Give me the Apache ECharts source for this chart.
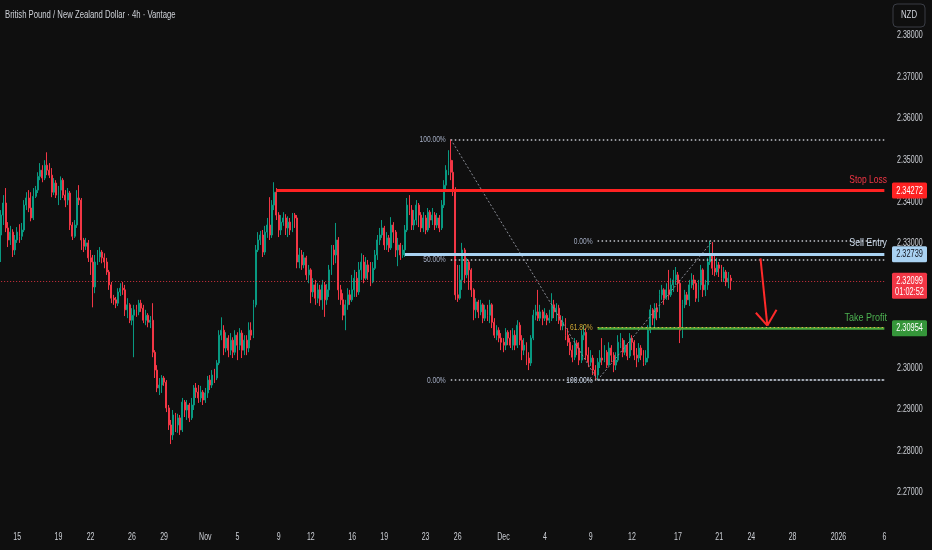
<!DOCTYPE html>
<html>
<head>
<meta charset="utf-8">
<script src="https://cdn.jsdelivr.net/npm/echarts@6/dist/echarts.min.js"></script>
<style>
html,body{margin:0;padding:0;background:#0f0f0f;}
#chart{width:932px;height:550px;}
</style>
</head>
<body>
<div id="chart"></div>
<script>
// ---- data: GBP/NZD 4h candles, [open, close, low, high] ----
const candles = [
[2.3320,2.3368,2.3255,2.3380],[2.3368,2.3397,2.3344,2.3416],[2.3397,2.3337,2.3327,2.3433],[2.3337,2.3308,2.3291,2.3351],
[2.3308,2.3327,2.3296,2.3342],[2.3327,2.3284,2.3267,2.3334],[2.3284,2.3308,2.3272,2.3320],[2.3308,2.3327,2.3301,2.3339],
[2.3327,2.3317,2.3301,2.3346],[2.3317,2.3332,2.3308,2.3349],[2.3332,2.3392,2.3327,2.3404],[2.3392,2.3409,2.3380,2.3423],
[2.3409,2.3385,2.3375,2.3428],[2.3385,2.3361,2.3353,2.3423],[2.3361,2.3413,2.3356,2.3433],[2.3413,2.3428,2.3409,2.3438],
[2.3428,2.3461,2.3421,2.3471],[2.3461,2.3476,2.3452,2.3493],[2.3476,2.3457,2.3447,2.3488],[2.3457,2.3488,2.3452,2.3500],
[2.3488,2.3476,2.3464,2.3519],[2.3476,2.3464,2.3457,2.3493],[2.3464,2.3423,2.3411,2.3481],[2.3423,2.3445,2.3416,2.3457],
[2.3445,2.3416,2.3409,2.3452],[2.3416,2.3428,2.3392,2.3438],[2.3428,2.3452,2.3404,2.3461],[2.3452,2.3416,2.3409,2.3457],
[2.3416,2.3404,2.3387,2.3428],[2.3404,2.3421,2.3392,2.3433],[2.3421,2.3344,2.3332,2.3426],[2.3344,2.3317,2.3308,2.3351],
[2.3317,2.3344,2.3313,2.3356],[2.3344,2.3409,2.3337,2.3428],[2.3409,2.3404,2.3392,2.3440],[2.3404,2.3308,2.3284,2.3409],
[2.3308,2.3293,2.3279,2.3313],[2.3293,2.3301,2.3284,2.3313],[2.3301,2.3265,2.3255,2.3308],[2.3265,2.3255,2.3224,2.3284],
[2.3255,2.3195,2.3146,2.3272],[2.3195,2.3255,2.3180,2.3272],[2.3255,2.3267,2.3248,2.3284],[2.3267,2.3279,2.3255,2.3291],
[2.3279,2.3265,2.3252,2.3284],[2.3265,2.3255,2.3240,2.3276],[2.3255,2.3231,2.3224,2.3265],[2.3231,2.3200,2.3188,2.3236],
[2.3200,2.3168,2.3156,2.3207],[2.3168,2.3164,2.3152,2.3176],[2.3164,2.3156,2.3144,2.3171],[2.3156,2.3183,2.3149,2.3192],
[2.3183,2.3192,2.3173,2.3204],[2.3192,2.3188,2.3176,2.3207],[2.3188,2.3140,2.3125,2.3200],[2.3140,2.3152,2.3120,2.3168],
[2.3152,2.3115,2.3108,2.3156],[2.3115,2.3127,2.3103,2.3144],[2.3127,2.3140,2.3026,2.3152],[2.3140,2.3135,2.3123,2.3152],
[2.3135,2.3156,2.3127,2.3164],[2.3156,2.3144,2.3135,2.3164],[2.3144,2.3115,2.3108,2.3152],[2.3115,2.3127,2.3103,2.3140],
[2.3127,2.3110,2.3098,2.3132],[2.3110,2.3115,2.3096,2.3125],[2.3115,2.3038,2.3026,2.3156],[2.3038,2.2995,2.2976,2.3043],
[2.2995,2.2952,2.2942,2.3007],[2.2952,2.2959,2.2935,2.2976],[2.2959,2.2976,2.2940,2.2983],[2.2976,2.2966,2.2957,2.2981],
[2.2966,2.2904,2.2894,2.2971],[2.2904,2.2863,2.2851,2.2911],[2.2863,2.2839,2.2817,2.2875],[2.2839,2.2887,2.2827,2.2899],
[2.2887,2.2863,2.2846,2.2892],[2.2863,2.2880,2.2844,2.2890],[2.2880,2.2851,2.2839,2.2887],[2.2851,2.2918,2.2846,2.2928],
[2.2918,2.2899,2.2882,2.2923],[2.2899,2.2911,2.2875,2.2923],[2.2911,2.2880,2.2870,2.2916],[2.2880,2.2911,2.2875,2.2928],
[2.2911,2.2952,2.2899,2.2959],[2.2952,2.2942,2.2928,2.2964],[2.2942,2.2928,2.2916,2.2959],[2.2928,2.2942,2.2918,2.2957],
[2.2942,2.2923,2.2911,2.2947],[2.2923,2.2940,2.2916,2.2952],[2.2940,2.2971,2.2928,2.2981],[2.2971,2.2959,2.2947,2.2983],
[2.2959,2.2983,2.2952,2.2995],[2.2983,2.2976,2.2964,2.2998],[2.2976,2.3012,2.2971,2.3019],[2.3012,2.3079,2.3007,2.3091],
[2.3079,2.3091,2.3067,2.3122],[2.3091,2.3048,2.3031,2.3103],[2.3048,2.3072,2.3038,2.3086],[2.3072,2.3043,2.3026,2.3079],
[2.3043,2.3067,2.3031,2.3084],[2.3067,2.3038,2.3024,2.3074],[2.3038,2.3079,2.3031,2.3091],[2.3079,2.3055,2.3019,2.3086],
[2.3055,2.3084,2.3043,2.3096],[2.3084,2.3043,2.3024,2.3091],[2.3043,2.3067,2.3031,2.3079],[2.3067,2.3048,2.3031,2.3079],
[2.3048,2.3091,2.3038,2.3110],[2.3091,2.3079,2.3067,2.3110],[2.3079,2.3152,2.3072,2.3164],[2.3152,2.3284,2.3146,2.3296],
[2.3284,2.3308,2.3279,2.3327],[2.3308,2.3320,2.3296,2.3330],[2.3320,2.3279,2.3267,2.3332],[2.3279,2.3327,2.3272,2.3342],
[2.3327,2.3344,2.3313,2.3361],[2.3344,2.3320,2.3308,2.3411],[2.3320,2.3392,2.3313,2.3404],[2.3392,2.3423,2.3380,2.3447],
[2.3423,2.3368,2.3356,2.3433],[2.3368,2.3332,2.3315,2.3375],[2.3332,2.3351,2.3320,2.3368],[2.3351,2.3361,2.3342,2.3375],
[2.3361,2.3337,2.3320,2.3370],[2.3337,2.3351,2.3315,2.3365],[2.3351,2.3332,2.3320,2.3361],[2.3332,2.3368,2.3327,2.3373],
[2.3368,2.3361,2.3337,2.3373],[2.3361,2.3255,2.3240,2.3368],[2.3255,2.3272,2.3240,2.3289],[2.3272,2.3248,2.3236,2.3284],
[2.3248,2.3265,2.3240,2.3279],[2.3265,2.3224,2.3212,2.3270],[2.3224,2.3236,2.3204,2.3248],[2.3236,2.3183,2.3156,2.3240],
[2.3183,2.3200,2.3171,2.3216],[2.3200,2.3168,2.3152,2.3212],[2.3168,2.3188,2.3156,2.3204],[2.3188,2.3164,2.3149,2.3200],
[2.3164,2.3200,2.3140,2.3212],[2.3200,2.3164,2.3123,2.3207],[2.3164,2.3188,2.3152,2.3202],[2.3188,2.3236,2.3171,2.3248],
[2.3236,2.3284,2.3224,2.3296],[2.3284,2.3272,2.3248,2.3296],[2.3272,2.3308,2.3252,2.3349],[2.3308,2.3188,2.3164,2.3315],
[2.3188,2.3164,2.3152,2.3200],[2.3164,2.3127,2.3115,2.3180],[2.3127,2.3152,2.3091,2.3164],[2.3152,2.3176,2.3140,2.3192],
[2.3176,2.3164,2.3152,2.3188],[2.3164,2.3188,2.3159,2.3224],[2.3188,2.3216,2.3171,2.3236],[2.3216,2.3183,2.3171,2.3231],
[2.3183,2.3236,2.3176,2.3255],[2.3236,2.3255,2.3212,2.3276],[2.3255,2.3216,2.3204,2.3272],[2.3216,2.3248,2.3212,2.3267],
[2.3248,2.3231,2.3212,2.3260],[2.3231,2.3207,2.3197,2.3255],[2.3207,2.3240,2.3204,2.3255],[2.3240,2.3272,2.3236,2.3284],
[2.3272,2.3308,2.3260,2.3320],[2.3308,2.3320,2.3296,2.3337],[2.3320,2.3337,2.3313,2.3356],[2.3337,2.3296,2.3284,2.3342],
[2.3296,2.3313,2.3284,2.3327],[2.3313,2.3289,2.3279,2.3320],[2.3289,2.3344,2.3284,2.3363],[2.3344,2.3327,2.3301,2.3351],
[2.3327,2.3284,2.3267,2.3332],[2.3284,2.3296,2.3245,2.3313],[2.3296,2.3272,2.3260,2.3301],[2.3272,2.3284,2.3265,2.3296],
[2.3284,2.3332,2.3267,2.3344],[2.3332,2.3392,2.3327,2.3409],[2.3392,2.3380,2.3368,2.3416],[2.3380,2.3344,2.3332,2.3392],
[2.3344,2.3356,2.3332,2.3380],[2.3356,2.3392,2.3344,2.3404],[2.3392,2.3368,2.3339,2.3397],[2.3368,2.3337,2.3327,2.3375],
[2.3337,2.3361,2.3327,2.3375],[2.3361,2.3332,2.3322,2.3368],[2.3332,2.3375,2.3327,2.3385],[2.3375,2.3356,2.3337,2.3380],
[2.3356,2.3368,2.3344,2.3385],[2.3368,2.3344,2.3332,2.3375],[2.3344,2.3361,2.3337,2.3373],[2.3361,2.3337,2.3327,2.3368],
[2.3337,2.3392,2.3332,2.3404],[2.3392,2.3440,2.3385,2.3452],[2.3440,2.3476,2.3428,2.3488],[2.3476,2.3500,2.3464,2.3524],
[2.3500,2.3471,2.3452,2.3550],[2.3471,2.3428,2.3414,2.3500],[2.3428,2.3176,2.3164,2.3435],[2.3176,2.3168,2.3159,2.3248],
[2.3168,2.3212,2.3164,2.3248],[2.3212,2.3284,2.3188,2.3301],[2.3284,2.3224,2.3204,2.3289],[2.3224,2.3255,2.3216,2.3265],
[2.3255,2.3236,2.3188,2.3260],[2.3236,2.3188,2.3171,2.3240],[2.3188,2.3140,2.3115,2.3192],[2.3140,2.3159,2.3120,2.3168],
[2.3159,2.3135,2.3120,2.3164],[2.3135,2.3152,2.3127,2.3164],[2.3152,2.3120,2.3108,2.3156],[2.3120,2.3140,2.3113,2.3152],
[2.3140,2.3127,2.3113,2.3152],[2.3127,2.3152,2.3108,2.3164],[2.3152,2.3110,2.3096,2.3156],[2.3110,2.3079,2.3072,2.3120],
[2.3079,2.3091,2.3067,2.3103],[2.3091,2.3072,2.3062,2.3098],[2.3072,2.3062,2.3043,2.3084],[2.3062,2.3055,2.3038,2.3072],
[2.3055,2.3086,2.3043,2.3096],[2.3086,2.3072,2.3055,2.3091],[2.3072,2.3055,2.3048,2.3091],[2.3055,2.3079,2.3043,2.3096],
[2.3079,2.3055,2.3043,2.3091],[2.3055,2.3103,2.3048,2.3115],[2.3103,2.3067,2.3055,2.3110],[2.3067,2.3043,2.3019,2.3079],
[2.3043,2.3055,2.3031,2.3072],[2.3055,2.3024,2.3007,2.3062],[2.3024,2.3012,2.2995,2.3038],[2.3012,2.3072,2.3005,2.3079],
[2.3072,2.3127,2.3067,2.3140],[2.3127,2.3135,2.3115,2.3152],[2.3135,2.3120,2.3113,2.3188],[2.3120,2.3135,2.3113,2.3152],
[2.3135,2.3120,2.3103,2.3140],[2.3120,2.3127,2.3113,2.3144],[2.3127,2.3115,2.3103,2.3132],[2.3115,2.3120,2.3108,2.3140],
[2.3120,2.3152,2.3113,2.3180],[2.3152,2.3135,2.3120,2.3164],[2.3135,2.3144,2.3113,2.3156],[2.3144,2.3115,2.3106,2.3152],
[2.3115,2.3101,2.3091,2.3127],[2.3101,2.3110,2.3091,2.3125],[2.3110,2.3079,2.3067,2.3120],[2.3079,2.3062,2.3053,2.3096],
[2.3062,2.3043,2.3031,2.3072],[2.3043,2.3026,2.3014,2.3055],[2.3026,2.3060,2.3019,2.3072],[2.3060,2.3048,2.3031,2.3067],
[2.3048,2.3019,2.3007,2.3062],[2.3019,2.3079,2.3012,2.3091],[2.3079,2.3086,2.3067,2.3103],[2.3086,2.3031,2.3019,2.3096],
[2.3031,2.3014,2.3002,2.3050],[2.3014,2.3024,2.3005,2.3043],[2.3024,2.2995,2.2983,2.3031],[2.2995,2.2983,2.2971,2.3007],
[2.2983,2.3014,2.2971,2.3024],[2.3014,2.3024,2.3000,2.3043],[2.3024,2.3019,2.3007,2.3072],[2.3019,2.3038,2.3014,2.3055],
[2.3038,2.3007,2.3000,2.3043],[2.3007,2.3048,2.3005,2.3062],[2.3048,2.3031,2.3014,2.3055],[2.3031,2.3007,2.2990,2.3038],
[2.3007,2.3019,2.2995,2.3038],[2.3019,2.3062,2.3014,2.3079],[2.3062,2.3067,2.3048,2.3084],[2.3067,2.3038,2.3026,2.3072],
[2.3038,2.3055,2.3031,2.3067],[2.3055,2.3029,2.3019,2.3060],[2.3029,2.3072,2.3024,2.3084],[2.3072,2.3062,2.3043,2.3079],
[2.3062,2.3031,2.3019,2.3067],[2.3031,2.3024,2.3002,2.3048],[2.3024,2.3048,2.3014,2.3060],[2.3048,2.3031,2.3019,2.3055],
[2.3031,2.3014,2.3005,2.3043],[2.3014,2.3024,2.3007,2.3043],[2.3024,2.3091,2.3014,2.3103],[2.3091,2.3140,2.3084,2.3152],
[2.3140,2.3120,2.3103,2.3144],[2.3120,2.3144,2.3098,2.3156],[2.3144,2.3135,2.3115,2.3156],[2.3135,2.3176,2.3120,2.3188],
[2.3176,2.3188,2.3164,2.3200],[2.3188,2.3168,2.3152,2.3192],[2.3168,2.3188,2.3164,2.3204],[2.3188,2.3176,2.3164,2.3236],
[2.3176,2.3200,2.3171,2.3216],[2.3200,2.3212,2.3183,2.3236],[2.3212,2.3224,2.3200,2.3243],[2.3224,2.3204,2.3183,2.3231],
[2.3204,2.3091,2.3060,2.3212],[2.3091,2.3152,2.3072,2.3164],[2.3152,2.3176,2.3144,2.3188],[2.3176,2.3164,2.3152,2.3183],
[2.3164,2.3200,2.3149,2.3212],[2.3200,2.3212,2.3192,2.3228],[2.3212,2.3204,2.3188,2.3224],[2.3204,2.3168,2.3159,2.3212],
[2.3168,2.3200,2.3159,2.3212],[2.3200,2.3236,2.3188,2.3248],[2.3236,2.3188,2.3171,2.3240],[2.3188,2.3200,2.3173,2.3212],
[2.3200,2.3255,2.3188,2.3265],[2.3255,2.3272,2.3248,2.3306],[2.3272,2.3240,2.3224,2.3303],[2.3240,2.3231,2.3221,2.3272],
[2.3231,2.3248,2.3224,2.3265],[2.3248,2.3240,2.3219,2.3255],[2.3240,2.3216,2.3207,2.3248],[2.3216,2.3231,2.3207,2.3243],
[2.3231,2.3207,2.3197,2.3236],[2.3207,2.3216,2.3192,2.3231],[2.3216,2.32099,2.3188,2.3224]
];

// x-axis tick labels: first bar of each listed day
const tickDates  = ['2025-10-15','2025-10-19','2025-10-22','2025-10-26','2025-10-29','2025-11-02','2025-11-05','2025-11-09','2025-11-12','2025-11-16','2025-11-19','2025-11-23','2025-11-26','2025-12-01','2025-12-04','2025-12-09','2025-12-12','2025-12-17','2025-12-21','2025-12-24','2025-12-28','2026-01-01','2026-01-06'];
const tickLabels = ['15','19','22','26','29','Nov','5','9','12','16','19','23','26','Dec','4','9','12','17','21','24','28','2026','6'];

// price axis labels
const priceTicks = [2.27,2.28,2.29,2.30,2.31,2.32,2.33,2.34,2.35,2.36,2.37,2.38];

// trade levels
const stopLoss = 2.34272, sellEntry = 2.32739, takeProfit = 2.30954, lastPrice = 2.32099;
const countdown = '01:02:52';
// fib 1 (swing high -> swing low)
const fib1High = 2.3550, fib1Low = 2.2971;
// fib 2 (swing low -> swing high)
const fib2Low = 2.2971, fib2High = 2.3305;
// anchor bar indices
const idxSL = 120, idxSell = 176, idxFib1 = 196, idxFib2 = 260, idxFib2Top = 310, idxEnd = 385;
// arrow (bar index, price)
const arrowStart = [331, 2.3264], arrowTip = [334, 2.3102], arrowL = [329, 2.3133], arrowR = [338, 2.3140];

const N_CATS = 386;
const FONT = '"Liberation Sans", Arial, sans-serif';

// timeline: 4h bars, Sun 2 bars, Mon-Fri 6 bars, no Saturday
function buildCategories(n) {
  const cats = [];
  const d = new Date(Date.UTC(2025, 9, 13));
  while (cats.length < n) {
    const dow = d.getUTCDay();
    const ds = d.toISOString().slice(0, 10);
    let hours = dow === 6 ? [] : (dow === 0 ? [16, 20] : [0, 4, 8, 12, 16, 20]);
    if (ds === '2025-10-13') hours = [20];
    for (const h of hours) if (cats.length < n) cats.push(ds + ' ' + String(h).padStart(2, '0') + ':00');
    d.setUTCDate(d.getUTCDate() + 1);
  }
  return cats;
}
const cats = buildCategories(N_CATS);
const tickIdx = tickDates.map(td => cats.findIndex(c => c.startsWith(td)));

const MAXP = 2.388541, MINP = 2.262230;

function seg(a, b, lineStyle) {
  return [{ coord: [a[0], a[1]], lineStyle: lineStyle }, { coord: [b[0], b[1]] }];
}
const dot = [1.5, 2.5];
const fibGray = '#c2c5cc';
const fib2_618 = fib2High - 0.618 * (fib2High - fib2Low);
const fib1_50 = (fib1High + fib1Low) / 2;

const markData = [
  seg([idxFib1, fib1High], [idxEnd, fib1High], { color: fibGray, type: dot, width: 1.5 }),
  seg([idxFib1, fib1_50], [idxEnd, fib1_50], { color: fibGray, type: dot, width: 1.5 }),
  seg([idxFib1, fib1Low], [idxEnd, fib1Low], { color: fibGray, type: dot, width: 1.5 }),
  seg([idxFib1, fib1High], [idxFib2, fib1Low], { color: '#8a8d96', type: [2, 2], width: 1 }),
  seg([idxFib2, fib2High], [idxEnd, fib2High], { color: fibGray, type: dot, width: 1.5 }),
  seg([idxFib2, fib2Low], [idxEnd, fib2Low - 0.00003], { color: '#c9d6e6', type: dot, width: 1.5 }),
  seg([idxFib2, fib2Low], [idxFib2Top, fib2High], { color: '#8a8d96', type: [2, 2], width: 1 }),
  seg([idxFib2, takeProfit], [idxEnd, takeProfit], { color: '#4aa83c', type: 'solid', width: 2.5 }),
  seg([idxFib2, fib2_618], [idxEnd, fib2_618], { color: '#d9b640', type: dot, width: 1.2 }),
  seg([idxSell, sellEntry], [idxEnd, sellEntry], { color: '#a9d2f2', type: 'solid', width: 3 }),
  seg([idxSL, stopLoss], [idxEnd, stopLoss], { color: '#ff2222', type: 'solid', width: 3 }),
  seg([0, lastPrice], [idxEnd, lastPrice], { color: '#f23645', type: [1, 2], width: 1, opacity: 0.85 }),
  seg(arrowStart, arrowTip, { color: '#ff2a2a', type: 'solid', width: 2 }),
  seg(arrowL, arrowTip, { color: '#ff2a2a', type: 'solid', width: 2 }),
  seg(arrowR, arrowTip, { color: '#ff2a2a', type: 'solid', width: 2 })
];

const chart = echarts.init(document.getElementById('chart'), null, { renderer: 'canvas' });
chart.setOption({
  backgroundColor: '#0f0f0f',
  animation: false,
  grid: { left: 0, right: 46.5, top: 0, bottom: 25, containLabel: false, outerBoundsMode: 'none' },
  xAxis: {
    type: 'category', data: cats, boundaryGap: true,
    axisLine: { show: false }, axisTick: { show: false }, splitLine: { show: false },
    axisLabel: { show: false }
  },
  yAxis: {
    type: 'value', position: 'right', min: MINP, max: MAXP, scale: true,
    axisLine: { show: false }, axisTick: { show: false }, splitLine: { show: false },
    axisLabel: { show: false }
  },
  series: [{
    type: 'candlestick',
    data: candles,
    barWidth: '62%',
    itemStyle: { color: '#089981', color0: '#f23645', borderColor: '#089981', borderColor0: '#f23645', borderWidth: 1 },
    markLine: { silent: true, symbol: ['none', 'none'], animation: false, label: { show: false }, data: markData }
  }]
});

// ---- texts (condensed like the original UI font), placed through the axis scales ----
const px = (i, v) => chart.convertToPixel({ gridIndex: 0 }, [i, v]);
const yPx = v => chart.convertToPixel({ yAxisIndex: 0 }, v);
const xPx = i => chart.convertToPixel({ xAxisIndex: 0 }, i);
function txt(text, x, y, size, color, align, sx, z) {
  return { type: 'text', x: x, y: y, scaleX: sx, z: z || 90,
    style: { text: text, x: 0, y: 0, align: align, verticalAlign: 'middle', fill: color, font: size + 'px ' + FONT } };
}
const g = [];
const AX = '#cdd0d6';
// x labels
tickIdx.forEach((i, k) => { if (i >= 0) g.push(txt(tickLabels[k], xPx(i), 537, 10, AX, 'center', 0.7)); });
// y labels
const axisX = chart.getWidth() - 46.5;
priceTicks.forEach(v => g.push(txt(v.toFixed(5), axisX + 11.5, yPx(v), 10, AX, 'left', 0.71, 80)));
// fib labels
const fl = (t, i, v, c) => { const p = px(i, v); g.push(txt(t, p[0] - 5, p[1], 9.5, c, 'right', 0.7)); };
fl('100.00%', idxFib1, fib1High, '#a3acc2');
fl('50.00%', idxFib1, fib1_50, '#a3acc2');
fl('0.00%', idxFib1, fib1Low, '#a3acc2');
fl('0.00%', idxFib2, fib2High, '#a3acc2');
fl('61.80%', idxFib2, fib2_618, '#d0a835');
fl('100.00%', idxFib2, fib2Low, '#cad6e8');
// level names
g.push(txt('Stop Loss', axisX + 1.5, yPx(stopLoss) - 10.5, 11, '#f23645', 'right', 0.77));
g.push(txt('Sell Entry', axisX + 1.5, yPx(sellEntry) - 11.5, 11, '#cfdded', 'right', 0.8));
g.push(txt('Take Profit', axisX + 1.5, yPx(takeProfit) - 10.5, 11, '#4caf50', 'right', 0.82));
// price tags (drawn above the axis labels)
const tagX = axisX + 6.5;
function tag(v, bg, fg, lines) {
  const y = yPx(v);
  const h = lines.length === 1 ? 16 : 26;
  const top = y - 8;
  g.push({ type: 'rect', shape: { x: tagX, y: top, width: 35, height: h, r: 1.5 }, style: { fill: bg }, z: 100 });
  lines.forEach((t, k) => g.push(txt(t, tagX + 17.5, top + 8.3 + k * 11, 10, fg, 'center', 0.74, 110)));
}
tag(stopLoss, '#ff2222', '#ffffff', ['2.34272']);
tag(sellEntry, '#a9d2f2', '#131722', ['2.32739']);
tag(lastPrice, '#f23645', '#ffffff', ['2.32099', countdown]);
tag(takeProfit, '#35963a', '#ffffff', ['2.30954']);
// header
g.push({ type: 'rect', shape: { x: tagX + 1, y: 4, width: 32, height: 23, r: 4 }, style: { fill: 'transparent', stroke: '#3a3d45', lineWidth: 1 }, z: 100 });
g.push(txt('NZD', tagX + 17, 15.5, 10, '#d1d4dc', 'center', 0.78, 110));
g.push(txt('British Pound / New Zealand Dollar · 4h · Vantage', 5, 15, 10.5, '#cfd2d8', 'left', 0.735));
chart.setOption({ graphic: { elements: g } });
</script>
</body>
</html>
